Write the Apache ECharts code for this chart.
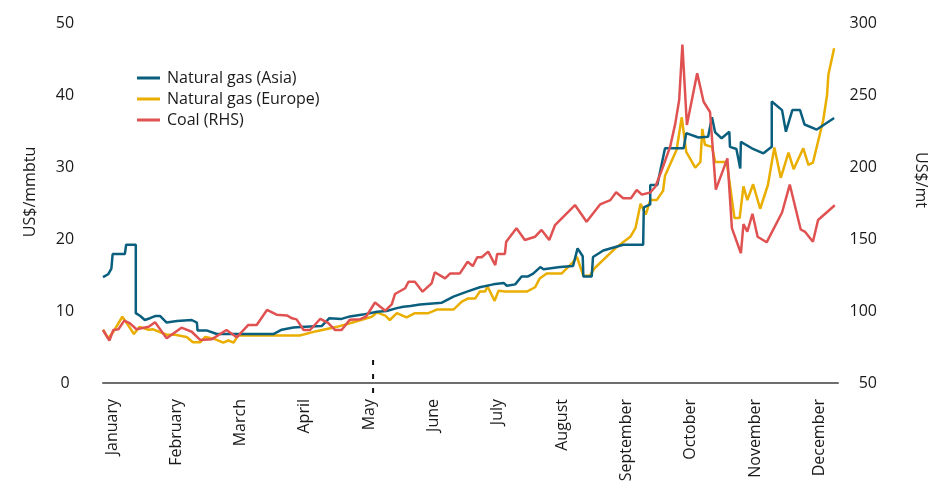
<!DOCTYPE html>
<html>
<head>
<meta charset="utf-8">
<script src="https://cdn.jsdelivr.net/npm/echarts@6/dist/echarts.min.js"></script>
<style>
html,body{margin:0;padding:0;background:#fff;}
#chart{width:929px;height:486px;}
</style>
</head>
<body>
<div id="chart"></div>
<script>
// Month labels (x positions in month units, 0 = January)
var months = ['January','February','March','April','May','June','July','August','September','October','November','December'];
var monthPositions = [0,1,2,3,4,5,6,7,8,9,10,11];

// Natural gas (Asia), US$/mmbtu  [month position, value]
var gasAsia = [[-0.14,14.7],[-0.06,15.1],[-0.01,15.9],[0.01,17.9],[0.20,17.9],[0.22,19.2],[0.37,19.2],[0.37,9.7],[0.44,9.3],[0.51,8.75],[0.59,9.0],[0.67,9.3],[0.75,9.3],[0.85,8.4],[1.01,8.6],[1.24,8.75],[1.32,8.4],[1.33,7.3],[1.47,7.3],[1.63,6.8],[2.51,6.8],[2.64,7.4],[2.82,7.7],[3.00,7.8],[3.26,7.9],[3.38,9.0],[3.57,8.9],[3.70,9.25],[3.90,9.5],[4.12,9.9],[4.27,10.0],[4.43,10.4],[4.53,10.6],[4.64,10.7],[4.79,10.9],[5.13,11.15],[5.31,12.0],[5.52,12.7],[5.72,13.3],[5.93,13.7],[6.09,13.9],[6.14,13.5],[6.27,13.7],[6.37,14.8],[6.47,14.8],[6.55,15.2],[6.66,16.1],[6.71,15.8],[6.97,16.1],[7.17,16.25],[7.24,18.7],[7.32,17.6],[7.33,14.8],[7.46,14.8],[7.48,17.5],[7.64,18.4],[7.95,19.2],[8.26,19.2],[8.27,24.4],[8.37,24.8],[8.37,27.5],[8.48,27.5],[8.60,32.6],[8.89,32.6],[8.93,34.7],[9.12,34.1],[9.27,34.2],[9.33,36.9],[9.38,34.8],[9.48,34.0],[9.60,34.9],[9.61,32.8],[9.71,32.5],[9.77,29.8],[9.78,33.5],[9.95,32.6],[10.13,31.9],[10.26,32.8],[10.26,39.1],[10.42,37.9],[10.48,34.9],[10.58,37.9],[10.70,37.9],[10.77,35.9],[10.96,35.2],[11.06,35.8],[11.23,36.8]];

// Natural gas (Europe), US$/mmbtu
var gasEurope = [[-0.14,7.4],[-0.06,6.2],[0.02,7.1],[0.16,9.2],[0.25,8.05],[0.34,6.8],[0.43,7.8],[0.57,7.4],[0.64,7.45],[0.85,6.7],[0.98,6.7],[1.16,6.4],[1.26,5.65],[1.37,5.65],[1.45,6.4],[1.60,6.1],[1.73,5.6],[1.81,5.9],[1.89,5.6],[1.96,6.6],[2.92,6.6],[3.18,7.2],[3.50,7.8],[3.70,8.3],[3.91,8.85],[4.04,9.2],[4.12,9.8],[4.25,9.35],[4.32,8.75],[4.43,9.7],[4.58,9.1],[4.71,9.7],[4.92,9.7],[5.05,10.2],[5.31,10.2],[5.44,11.3],[5.54,11.75],[5.65,11.75],[5.72,12.7],[5.80,12.7],[5.84,13.4],[5.95,11.4],[6.01,12.8],[6.11,12.7],[6.45,12.7],[6.58,13.3],[6.65,14.5],[6.76,15.2],[6.99,15.2],[7.17,16.8],[7.23,17.5],[7.33,14.9],[7.43,14.9],[7.50,15.9],[7.85,18.9],[8.06,20.3],[8.14,21.5],[8.22,24.9],[8.30,23.4],[8.37,25.4],[8.47,25.4],[8.57,26.7],[8.60,28.8],[8.78,32.4],[8.86,36.9],[8.93,32.1],[9.07,29.9],[9.15,30.7],[9.18,35.3],[9.22,33.1],[9.33,32.8],[9.38,30.7],[9.56,30.7],[9.68,22.9],[9.76,22.9],[9.82,27.3],[9.88,25.4],[9.97,27.6],[10.08,24.2],[10.20,27.5],[10.30,32.7],[10.40,28.5],[10.52,32.0],[10.60,29.7],[10.75,32.6],[10.83,30.3],[10.90,30.6],[11.06,36.5],[11.12,40.0],[11.14,42.8],[11.23,46.5]];

// Coal (RHS), US$/mt
var coal = [[-0.14,86.8],[-0.04,79.5],[0.02,86.8],[0.10,87.3],[0.19,93.3],[0.28,91.4],[0.38,87.3],[0.57,89.1],[0.67,92.2],[0.85,81.0],[1.08,88.4],[1.24,85.6],[1.37,79.9],[1.55,80.3],[1.78,86.8],[1.94,81.7],[2.12,90.3],[2.25,90.3],[2.41,100.7],[2.56,97.4],[2.72,96.9],[2.80,94.9],[2.87,94.2],[2.98,86.8],[3.08,86.8],[3.24,94.6],[3.36,91.8],[3.47,86.8],[3.57,86.8],[3.70,94.0],[3.86,94.3],[3.95,96.0],[4.09,105.9],[4.25,100.2],[4.35,104.6],[4.40,111.8],[4.56,115.8],[4.61,120.3],[4.71,120.3],[4.83,113.4],[4.97,119.2],[5.02,126.9],[5.18,122.7],[5.26,126.1],[5.41,126.1],[5.53,134.2],[5.61,131.2],[5.68,137.3],[5.75,137.3],[5.85,141.2],[5.96,131.9],[5.99,139.6],[6.11,139.6],[6.13,148.1],[6.29,157.4],[6.42,149.3],[6.58,151.6],[6.68,156.3],[6.80,149.3],[6.89,159.7],[7.20,173.6],[7.38,162.0],[7.59,174.0],[7.75,177.0],[7.84,182.5],[7.95,178.3],[8.07,178.3],[8.16,184.0],[8.24,180.8],[8.37,182.3],[8.45,186.3],[8.55,197.9],[8.68,214.1],[8.76,230.3],[8.82,246.5],[8.87,285.0],[8.94,229.2],[9.10,265.1],[9.20,245.3],[9.30,238.2],[9.39,184.3],[9.57,206.0],[9.64,157.6],[9.78,140.1],[9.82,160.3],[9.88,155.1],[9.96,167.5],[10.04,151.6],[10.18,147.7],[10.42,168.4],[10.54,187.8],[10.71,156.6],[10.78,154.9],[10.90,148.1],[10.98,163.2],[11.24,173.4]];

// Dashed marker at May (left-axis units, extends below the axis)
var mayMarker = [[4.06, 3.2], [4.06, -2.4]];

var FONT = 'Open Sans';
var TXT = '#1a1a1a';
var chart = echarts.init(document.getElementById('chart'), null, {renderer: 'canvas'});
chart.setOption({
  animation: false,
  backgroundColor: '#fff',
  textStyle: {fontFamily: FONT, color: TXT},
  grid: {left: 103, right: 91, top: 23, bottom: 103},
  legend: {
    orient: 'vertical', left: 137, top: 70, padding: 0,
    icon: 'rect', itemWidth: 23, itemHeight: 3, itemGap: 5,
    data: ['Natural gas (Asia)', 'Natural gas (Europe)', 'Coal (RHS)'],
    textStyle: {fontFamily: FONT, fontSize: 16, color: TXT, padding: [0,0,0,2]}
  },
  xAxis: {
    type: 'value', min: -0.14, max: 11.29,
    axisLine: {show: true, lineStyle: {color: '#6e6e6e', width: 2}},
    axisTick: {show: false},
    splitLine: {show: false},
    axisLabel: {
      customValues: monthPositions,
      formatter: function (v) { return months[Math.round(v)]; },
      rotate: 90, margin: 16, fontSize: 16, color: TXT, fontFamily: FONT
    }
  },
  yAxis: [
    {type: 'value', min: 0, max: 50, interval: 10, position: 'left',
     axisLine: {show: false}, axisTick: {show: false}, splitLine: {show: false},
     axisLabel: {align: 'center', margin: 38, fontSize: 16, color: TXT, fontFamily: FONT}},
    {type: 'value', min: 50, max: 300, interval: 50, position: 'right',
     axisLine: {show: false}, axisTick: {show: false}, splitLine: {show: false},
     axisLabel: {align: 'right', margin: 39, fontSize: 16, color: TXT, fontFamily: FONT}}
  ],
  graphic: [
    {type: 'text', x: 30, y: 192, rotation: Math.PI / 2,
     style: {text: 'US$/mmbtu', fontFamily: FONT, fontSize: 16, fill: TXT, align: 'center', verticalAlign: 'middle'}},
    {type: 'text', x: 921, y: 180, rotation: -Math.PI / 2,
     style: {text: 'US$/mt', fontFamily: FONT, fontSize: 16, fill: TXT, align: 'center', verticalAlign: 'middle'}}
  ],
  series: [
    {name: 'Natural gas (Asia)', type: 'line', yAxisIndex: 0, data: gasAsia, symbol: 'none', z: 3,
     color: '#0b5f7e', lineStyle: {width: 2.5, color: '#0b5f7e'}},
    {name: 'Natural gas (Europe)', type: 'line', yAxisIndex: 0, data: gasEurope, symbol: 'none', z: 2,
     color: '#e9ae00', lineStyle: {width: 2.5, color: '#e9ae00'}},
    {name: 'Coal (RHS)', type: 'line', yAxisIndex: 1, data: coal, symbol: 'none', z: 4,
     color: '#e05252', lineStyle: {width: 2.5, color: '#e05252'}},
    {name: 'marker', type: 'line', yAxisIndex: 0, data: mayMarker, symbol: 'none', clip: false, silent: true,
     lineStyle: {width: 2, color: '#111', type: [5, 9]}}
  ]
});
</script>
</body>
</html>
